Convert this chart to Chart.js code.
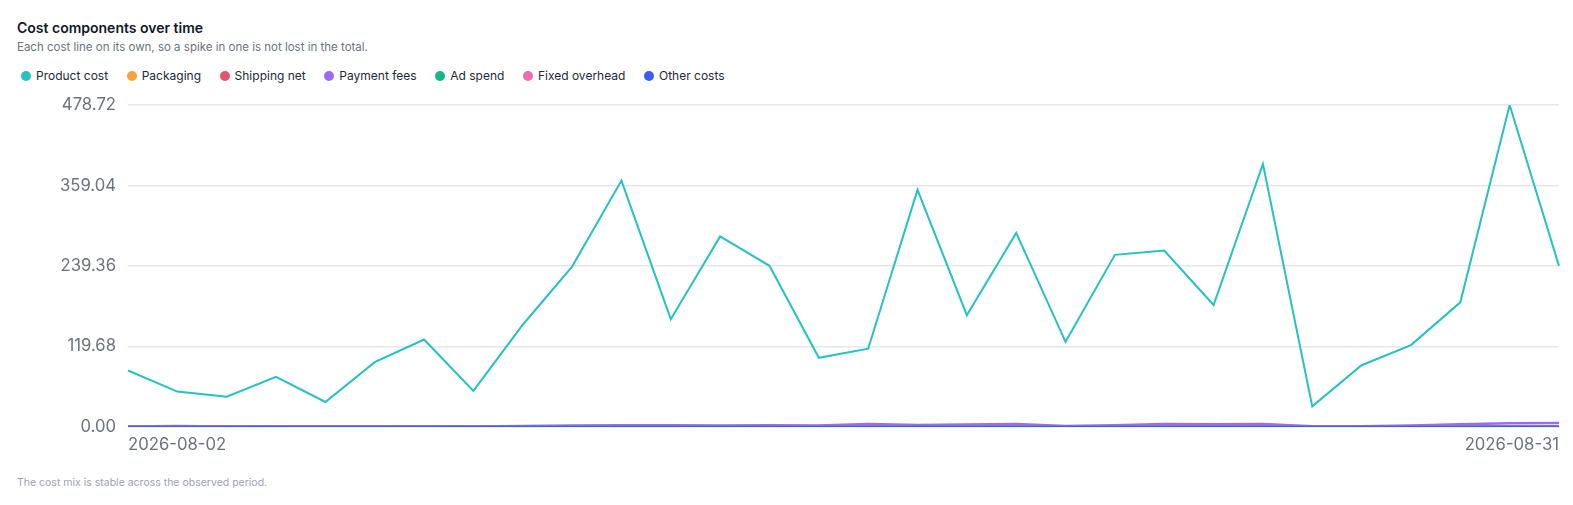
<!DOCTYPE html>
<html>
<head>
<meta charset="utf-8">
<script src="https://cdn.jsdelivr.net/npm/chart.js@4/dist/chart.umd.min.js"></script>
<style>
  html, body { margin: 0; padding: 0; background: #fff; }
  body { width: 1573px; height: 505px; position: relative; overflow: hidden; font-family: Inter, "Noto Sans", sans-serif; }
  #title { position: absolute; left: 17px; top: 19px; font-size: 14px; font-weight: 600; color: #111827; }
  #subtitle { position: absolute; left: 17px; top: 40px; font-size: 11.5px; color: #6b7280; }
  #legend { position: absolute; left: 21px; top: 68px; display: flex; gap: 18.6px; font-size: 12px; color: #1f2937; }
  #legend span.item { display: flex; align-items: center; }
  #legend span.dot { width: 10px; height: 10px; border-radius: 50%; margin-right: 5px; display: inline-block; }
  #wrap { position: absolute; left: 0; top: 83px; width: 1573px; height: 388px; }
  #note { position: absolute; left: 17px; top: 476px; font-size: 10.5px; color: #9ca3af; }
</style>
</head>
<body>
<div id="title">Cost components over time</div>
<div id="subtitle">Each cost line on its own, so a spike in one is not lost in the total.</div>
<div id="legend"></div>
<div id="wrap"><canvas id="costChart"></canvas></div>
<div id="note">The cost mix is stable across the observed period.</div>
<script>
// days on the x axis
var days = ['2026-08-02','2026-08-03','2026-08-04','2026-08-05','2026-08-06','2026-08-07','2026-08-08','2026-08-09','2026-08-10','2026-08-11',
            '2026-08-12','2026-08-13','2026-08-14','2026-08-15','2026-08-16','2026-08-17','2026-08-18','2026-08-19','2026-08-20','2026-08-21',
            '2026-08-22','2026-08-23','2026-08-24','2026-08-25','2026-08-26','2026-08-27','2026-08-28','2026-08-29','2026-08-30','2026-08-31'];

// cost lines
var productCost   = [84, 52.6, 45.1, 74.4, 37.1, 96.3, 130.1, 53.6, 152, 238.5,
                     366.3, 160.3, 283.3, 239.6, 102.9, 116.4, 352.6, 166.2, 288.6, 126.6,
                     255.9, 262.3, 181.3, 391, 30.6, 91.8, 121.7, 185.3, 478.72, 239.5];
var packaging     = [0.3, 0.3, 0.2, 0.3, 0.2, 0.3, 0.4, 0.2, 0.4, 0.5, 0.6, 0.4, 0.5, 0.5, 0.3, 0.3, 0.6, 0.4, 0.5, 0.3, 0.5, 0.5, 0.4, 0.6, 0.2, 0.3, 0.3, 0.4, 0.7, 0.5];
var shippingNet   = [0.2, 0.2, 0.1, 0.2, 0.1, 0.2, 0.3, 0.1, 0.3, 0.4, 0.5, 0.3, 0.4, 0.4, 0.2, 0.2, 0.5, 0.3, 0.4, 0.2, 0.4, 0.4, 0.3, 0.5, 0.1, 0.2, 0.2, 0.3, 0.6, 0.4];
var paymentFees   = [0.5, 1.5, 0.5, 0.8, 1, 1, 1, 0.5, 1.5, 2,
                     2.5, 2.5, 2, 2.5, 2, 4.5, 3, 3.5, 4.5, 1.5,
                     2.5, 4.5, 4, 4.5, 1, 1, 2, 4, 5.5, 6];
var adSpend       = [0.4, 0.3, 0.3, 0.4, 0.2, 0.4, 0.5, 0.3, 0.5, 0.6, 0.7, 0.5, 0.6, 0.6, 0.4, 0.4, 0.7, 0.5, 0.6, 0.4, 0.6, 0.6, 0.5, 0.7, 0.2, 0.4, 0.4, 0.5, 0.8, 0.6];
var fixedOverhead = [0.3, 0.3, 0.3, 0.3, 0.3, 0.3, 0.3, 0.3, 0.3, 0.3, 0.3, 0.3, 0.3, 0.3, 0.3, 0.3, 0.3, 0.3, 0.3, 0.3, 0.3, 0.3, 0.3, 0.3, 0.3, 0.3, 0.3, 0.3, 0.3, 0.3];
var otherCosts    = [0, 0, 0, 0, 0, 0, 0, 0, 0, 0, 0, 0, 0, 0, 0, 0, 0, 0, 0, 0, 0, 0, 0, 0, 0, 0, 0, 0, 0, 0];

var seriesNames  = ['Product cost', 'Packaging', 'Shipping net', 'Payment fees', 'Ad spend', 'Fixed overhead', 'Other costs'];
var seriesData   = [productCost, packaging, shippingNet, paymentFees, adSpend, fixedOverhead, otherCosts];
var seriesColors = ['#25c2c2', '#f6a33c', '#e5566c', '#9b6bf5', '#12b886', '#f06bb0', '#3f5bf6'];

// y ticks
var yTicks = [0, 119.68, 239.36, 359.04, 478.72];

// html legend
var legend = document.getElementById('legend');
seriesNames.forEach(function (name, i) {
    var item = document.createElement('span');
    item.className = 'item';
    item.innerHTML = '<span class="dot" style="background:' + seriesColors[i] + '"></span>' + name;
    legend.appendChild(item);
});

var ctx = document.getElementById('costChart').getContext('2d');
var costChart = new Chart(ctx, {
    type: 'line',
    data: {
        labels: days,
        datasets: seriesNames.map(function (name, i) {
            return {
                label: name,
                data: seriesData[i],
                borderColor: seriesColors[i],
                backgroundColor: seriesColors[i],
                borderWidth: i === 0 ? 2 : 2.5,
                pointRadius: 0,
                tension: 0,
                fill: false,
                order: seriesNames.length - i // later lines on top
            };
        })
    },
    options: {
        responsive: true,
        maintainAspectRatio: false,
        animation: false,
        layout: { padding: { left: 0, right: 14, top: 14, bottom: 8 } },
        plugins: { legend: { display: false }, tooltip: { enabled: false } },
        scales: {
            x: {
                grid: { display: false, drawTicks: false },
                border: { display: false },
                ticks: {
                    autoSkip: false,
                    maxRotation: 0,
                    align: 'inner',
                    padding: 8,
                    color: '#6b7280',
                    font: { family: 'Inter', size: 16.7 },
                    callback: function (v, i) {
                        return (i === 0 || i === days.length - 1) ? days[i] : '';
                    }
                }
            },
            y: {
                min: 0,
                max: 478.72,
                afterBuildTicks: function (scale) {
                    scale.ticks = yTicks.map(function (v) { return { value: v }; });
                },
                afterFit: function (scale) { scale.width = 128; },
                grid: { color: '#e5e7eb', drawTicks: false, lineWidth: 1.5 },
                border: { display: false },
                ticks: {
                    padding: 12,
                    color: '#6b7280',
                    font: { family: 'Inter', size: 16.7 },
                    callback: function (v) { return Number(v).toFixed(2); }
                }
            }
        }
    }
});
</script>
</body>
</html>
